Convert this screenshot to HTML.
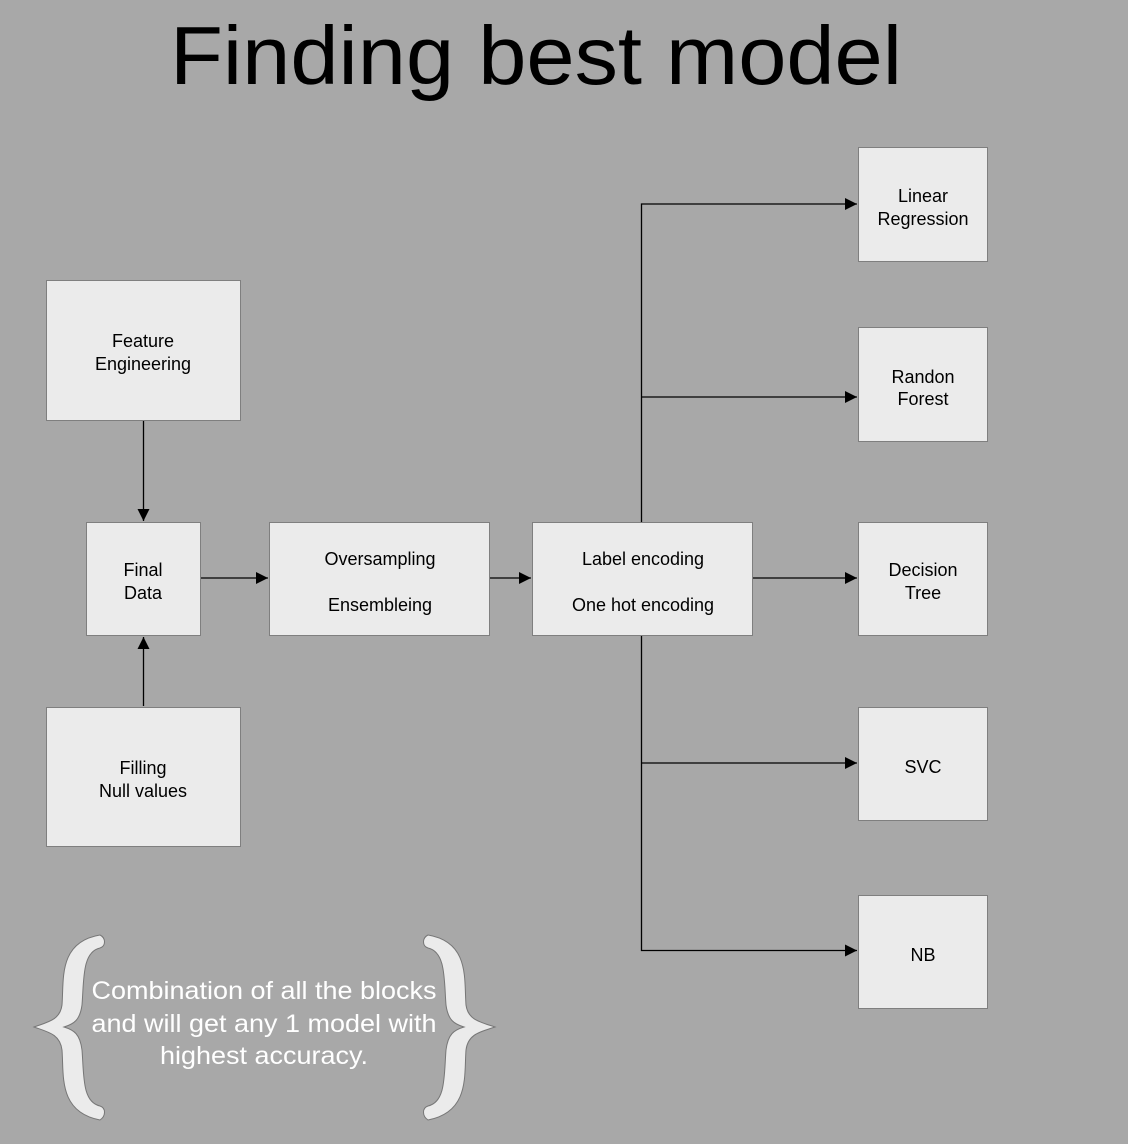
<!DOCTYPE html>
<html><head><meta charset="utf-8"><style>
html,body{margin:0;padding:0;background:#a8a8a8;}
svg{display:block;}
text{font-family:"Liberation Sans",Arial,sans-serif;}
</style></head><body>
<svg width="1128" height="1144" viewBox="0 0 1128 1144" xmlns="http://www.w3.org/2000/svg">
<defs><marker id="a" viewBox="0 0 10 10" refX="10" refY="5" markerWidth="16" markerHeight="12" markerUnits="userSpaceOnUse" orient="auto"><path d="M0,0L10,5L0,10z" fill="#000"/></marker></defs>
<rect width="1128" height="1144" fill="#a8a8a8"/>
<text x="536" y="84" font-size="83" text-anchor="middle" textLength="732" lengthAdjust="spacingAndGlyphs" fill="#000">Finding best model</text>
<g fill="#ebebeb" stroke="#7f7f7f" stroke-width="1">
<rect x="46.5" y="280.5" width="194" height="140"/>
<rect x="86.5" y="522.5" width="114" height="113"/>
<rect x="46.5" y="707.5" width="194" height="139"/>
<rect x="269.5" y="522.5" width="220" height="113"/>
<rect x="532.5" y="522.5" width="220" height="113"/>
<rect x="858.5" y="147.5" width="129" height="114"/>
<rect x="858.5" y="327.5" width="129" height="114"/>
<rect x="858.5" y="522.5" width="129" height="113"/>
<rect x="858.5" y="707.5" width="129" height="113"/>
<rect x="858.5" y="895.5" width="129" height="113"/>
</g>
<g stroke="#000" stroke-width="1.3" fill="none">
<line x1="143.5" y1="421" x2="143.5" y2="521" marker-end="url(#a)"/>
<line x1="143.5" y1="706" x2="143.5" y2="637" marker-end="url(#a)"/>
<line x1="201" y1="578" x2="268" y2="578" marker-end="url(#a)"/>
<line x1="490" y1="578" x2="531" y2="578" marker-end="url(#a)"/>
<line x1="753" y1="578" x2="857" y2="578" marker-end="url(#a)"/>
<polyline points="641.5,522 641.5,204 857,204" marker-end="url(#a)"/>
<line x1="641.5" y1="397" x2="857" y2="397" marker-end="url(#a)"/>
<polyline points="641.5,636 641.5,950.5 857,950.5" marker-end="url(#a)"/>
<line x1="641.5" y1="763" x2="857" y2="763" marker-end="url(#a)"/>
</g>
<g font-size="18" text-anchor="middle" fill="#000">
<text x="143" y="347">Feature</text><text x="143" y="370">Engineering</text>
<text x="143" y="576">Final</text><text x="143" y="599">Data</text>
<text x="143" y="774">Filling</text><text x="143" y="797">Null values</text>
<text x="380" y="565">Oversampling</text><text x="380" y="611">Ensembleing</text>
<text x="643" y="565">Label encoding</text><text x="643" y="611">One hot encoding</text>
<text x="923" y="202">Linear</text><text x="923" y="225">Regression</text>
<text x="923" y="383">Randon</text><text x="923" y="405">Forest</text>
<text x="923" y="576">Decision</text><text x="923" y="599">Tree</text>
<text x="923" y="773">SVC</text>
<text x="923" y="961">NB</text>
</g>
<g fill="#ebebeb" stroke="#777" stroke-width="1">
<path d="M100,935 C58,942 64,980 62,1005 C60,1020 48,1022 34,1027 C48,1032 60,1034 62,1050 C64,1075 58,1112 100,1120 C106,1116 106,1108 100,1106 C82,1102 84,1075 82,1050 C80,1034 74,1030 64,1027 C74,1024 80,1020 82,1005 C84,980 82,952 100,948 C106,946 106,938 100,935Z"/>
<path d="M428,935 C470,942 464,980 466,1005 C468,1020 480,1022 495,1027 C480,1032 468,1034 466,1050 C464,1075 470,1112 428,1120 C422,1116 422,1108 428,1106 C446,1102 444,1075 446,1050 C448,1034 454,1030 464,1027 C454,1024 448,1020 446,1005 C444,980 446,952 428,948 C422,946 422,938 428,935Z"/>
</g>
<g font-size="25" text-anchor="middle" fill="#fff">
<text x="264" y="999" textLength="345" lengthAdjust="spacingAndGlyphs">Combination of all the blocks</text>
<text x="264" y="1032" textLength="345" lengthAdjust="spacingAndGlyphs">and will get any 1 model with</text>
<text x="264" y="1064" textLength="208" lengthAdjust="spacingAndGlyphs">highest accuracy.</text>
</g>
</svg>
</body></html>
